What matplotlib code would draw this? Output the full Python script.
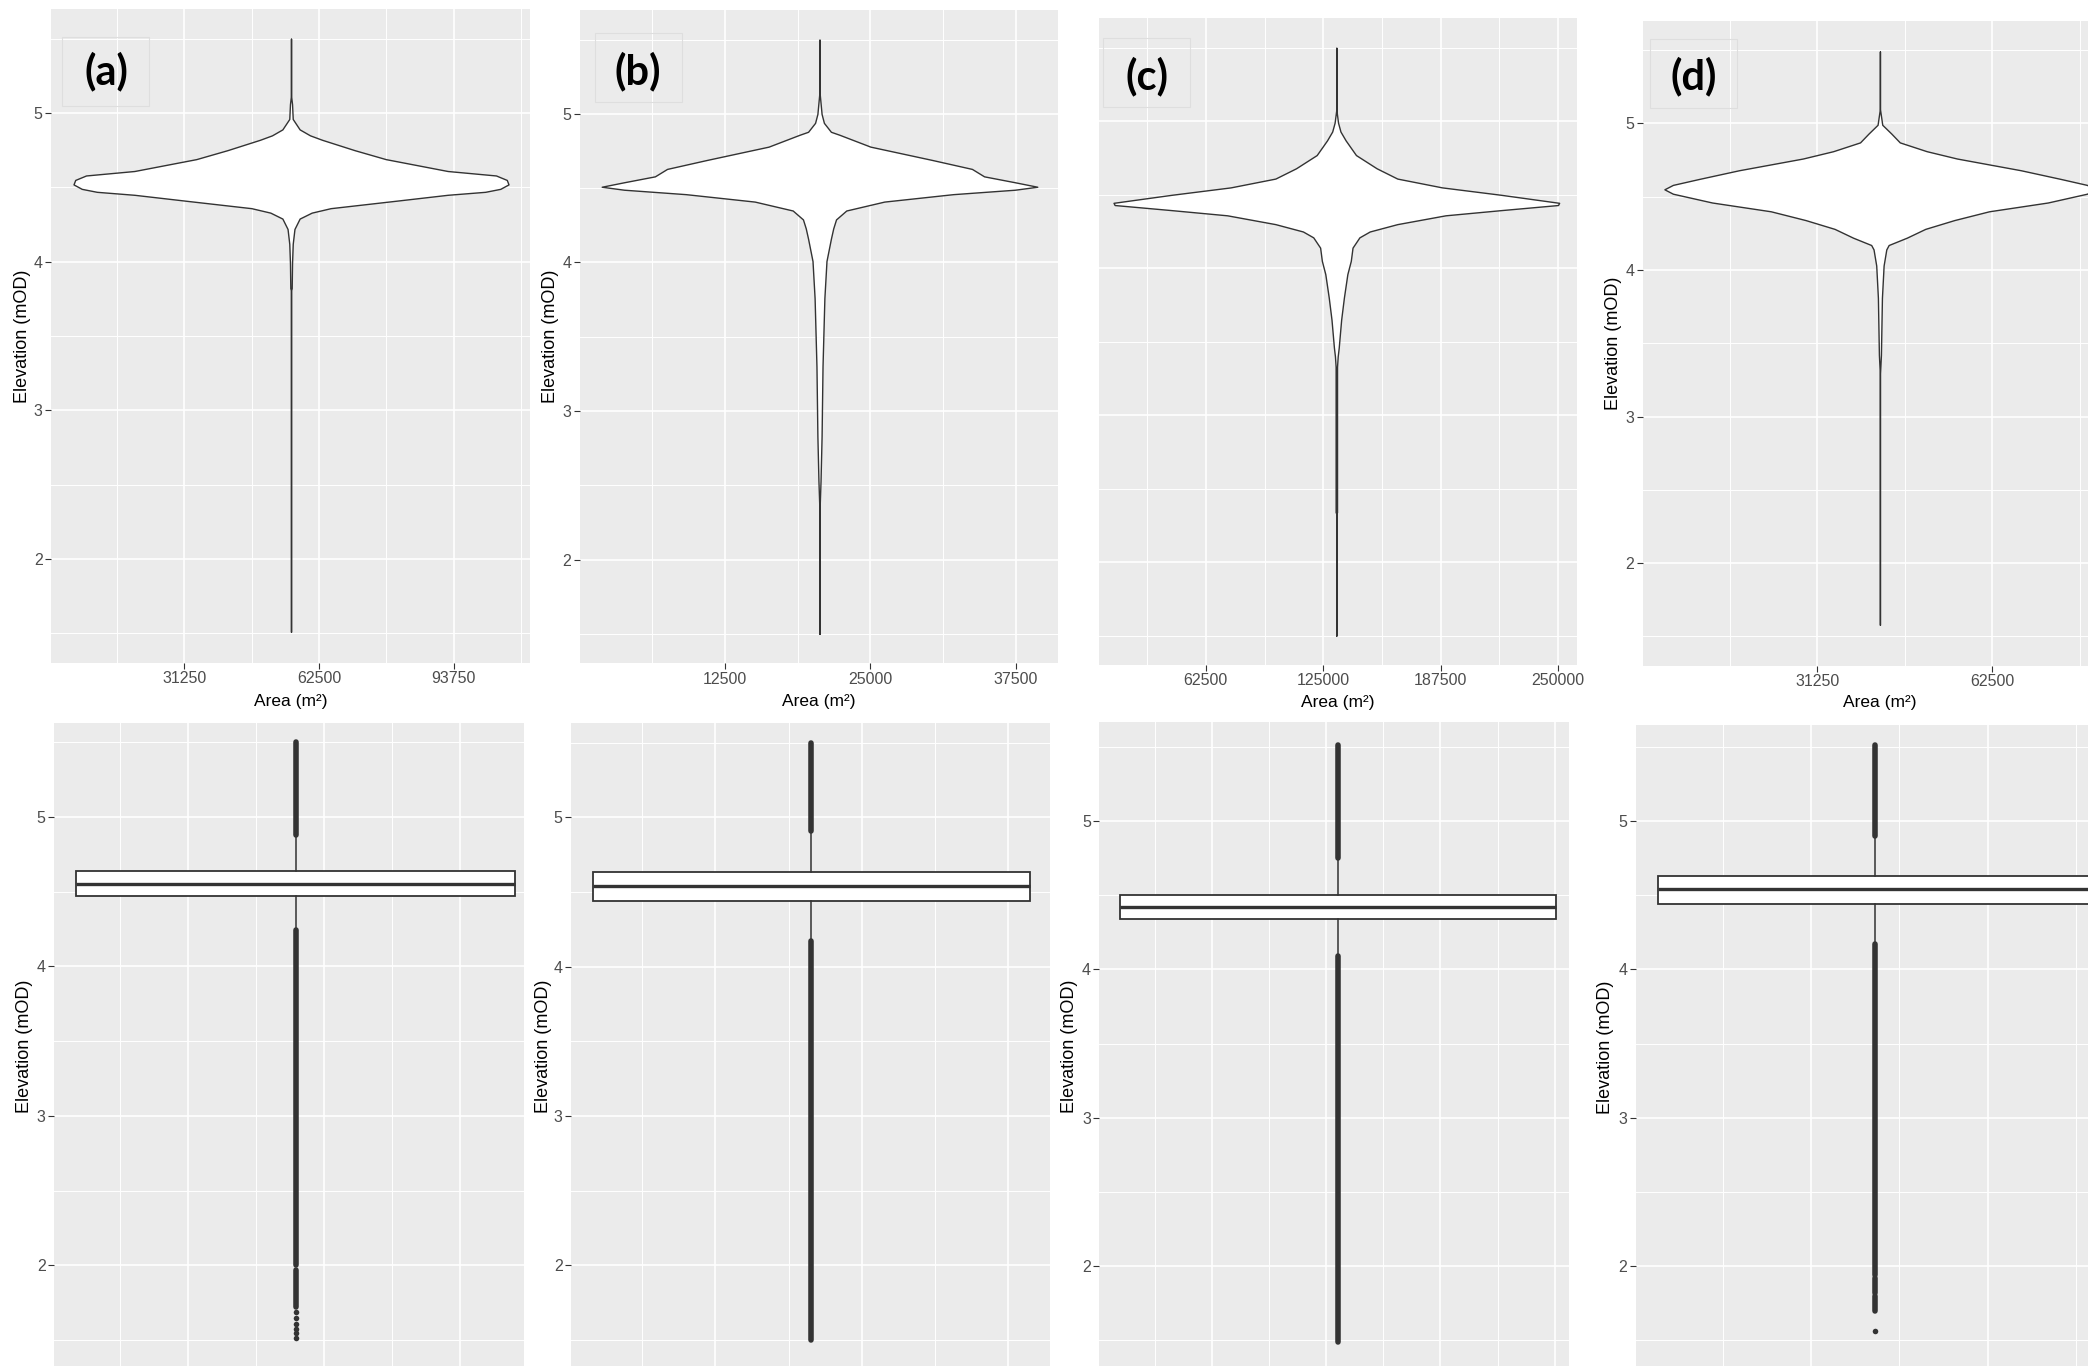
import numpy as np
import matplotlib.pyplot as plt
from matplotlib.patches import Rectangle

plt.rcParams["font.family"] = ["Liberation Sans", "DejaVu Sans"]

# ------------------------------------------------------------
# data
# ------------------------------------------------------------
panel_tags = ["(a)", "(b)", "(c)", "(d)"]
y_label = "Elevation (mOD)"
x_label = "Area (m²)"

# violin outlines: elevation (mOD) against half width (m2)
centre_a = 56000
elev_a = [5.50, 5.12, 5.06, 4.96, 4.89, 4.85, 4.82, 4.75, 4.69, 4.61, 4.58, 4.55, 4.52,
          4.49, 4.47, 4.45, 4.41, 4.36, 4.33, 4.29, 4.22, 4.12, 3.99, 3.82, 3.81, 1.51]
hw_a = [0, 0, 240, 400, 2000, 4400, 7200, 14760, 21950, 36300, 47500, 50000, 50400,
        48500, 45000, 36300, 24340, 9180, 4790, 2000, 800, 400, 240, 160, 0, 0]

centre_b = 20627
elev_b = [5.50, 5.15, 5.00, 4.94, 4.88, 4.86, 4.78, 4.69, 4.63, 4.58, 4.54, 4.51, 4.49,
          4.46, 4.41, 4.35, 4.29, 4.23, 4.16, 4.01, 3.76, 3.30, 2.83, 2.53, 2.32, 1.50]
hw_b = [0, 0, 180, 380, 980, 1710, 4370, 9690, 13090, 14130, 16790, 18700, 16790,
        11470, 5560, 2300, 1420, 1180, 980, 600, 420, 260, 180, 90, 0, 0]

centre_c = 131965
elev_c = [5.50, 5.08, 4.99, 4.93, 4.87, 4.77, 4.68, 4.61, 4.55, 4.50, 4.445, 4.43, 4.395,
          4.36, 4.30, 4.25, 4.21, 4.14, 4.05, 3.96, 3.80, 3.65, 3.46, 3.40, 3.33, 2.34, 2.33, 1.50]
hw_c = [0, 0, 920, 2200, 4950, 10450, 21450, 32440, 56270, 87430, 118590, 118000, 87430,
        58100, 32440, 17780, 12280, 8620, 7700, 5870, 4030, 2570, 1280, 730, 370, 370, 0, 0]

centre_d = 42430
elev_d = [5.49, 5.10, 4.99, 4.93, 4.87, 4.81, 4.76, 4.68, 4.62, 4.58, 4.55, 4.52, 4.46,
          4.40, 4.34, 4.28, 4.22, 4.17, 4.14, 4.03, 3.81, 3.42, 3.28, 1.58]
hw_d = [0, 0, 420, 2040, 3550, 8350, 13760, 25180, 32390, 37000, 38520, 37000, 30000,
        19500, 13280, 8100, 4800, 1560, 1140, 660, 360, 180, 0, 0]

# box plots (elevation, mOD); box centre and half width in m2
box_a = dict(med=4.55, q1=4.47, q3=4.64, whislo=4.25, whishi=4.87)
box_b = dict(med=4.54, q1=4.44, q3=4.635, whislo=4.18, whishi=4.90)
box_c = dict(med=4.42, q1=4.34, q3=4.50, whislo=4.10, whishi=4.74)
box_d = dict(med=4.54, q1=4.44, q3=4.63, whislo=4.18, whishi=4.89)
box_centre = [56116, 20670, 131400, 42560]
box_halfwidth = [50455, 18650, 119000, 38400]

# outliers are so dense they merge into solid runs; a few stand alone
runs_a = [(4.88, 5.50), (2.00, 4.24), (1.72, 1.97)]
runs_b = [(4.91, 5.50), (1.50, 4.17)]
runs_c = [(4.75, 5.51), (1.49, 4.09)]
runs_d = [(4.90, 5.51), (1.94, 4.17), (1.82, 1.92), (1.70, 1.80)]
single_a = [1.69, 1.645, 1.61, 1.574, 1.545, 1.517]
single_b = []
single_c = []
single_d = [1.56]

# x grid values per site
major_a, minor_a = [31250, 62500, 93750], [15625, 46875, 78125, 109375]
major_b, minor_b = [12500, 25000, 37500], [6250, 18750, 31250]
major_c, minor_c = [62500, 125000, 187500, 250000], [31250, 93750, 156250, 218750]
major_d, minor_d = [31250, 62500], [15625, 46875, 78125]
y_major = [2, 3, 4, 5]
y_minor = [1.5, 2.5, 3.5, 4.5, 5.5]

# ------------------------------------------------------------
# layout (pixel boxes of the pasted ggplot panels)
# ------------------------------------------------------------
W, H = 2088, 1366
fig = plt.figure(figsize=(W / 100, H / 100), dpi=100)
fig.patch.set_facecolor("white")

top_boxes = [(51, 9, 530, 663), (579.6, 10, 1058, 663.5),
             (1099, 18.4, 1577, 665), (1642.5, 20.7, 2117, 665.8)]
top_xlim = [(385, 111380), (30, 41105), (5650, 260060), (0, 84800)]
top_ylab_x = [22.4, 550.3, None, 1614]
top_xlab_y = [701.7, 701.7, 702.3, 702.3]

bot_boxes = [(54, 723.4, 524, 1370), (571, 723.4, 1050.3, 1370),
             (1099.2, 722, 1568.6, 1370), (1635.8, 724.6, 2114, 1370)]
bot_xlim = [(505, 108526), (170, 41080), (930, 257540), (283, 84800)]
bot_ytop = [5.625, 5.63, 5.667, 5.65]
bot_ylab_x = [24.8, 543.4, 1069.3, 1605.5]

tag_boxes = [(62.3, 36.7, 149.3, 106), (595, 33, 682, 102),
             (1103, 38, 1190, 106.5), (1650, 39, 1737, 108)]
tag_centres = [(106.7, 71.7), (638, 71), (1147, 76), (1694, 76)]

violins = [(centre_a, elev_a, hw_a), (centre_b, elev_b, hw_b),
           (centre_c, elev_c, hw_c), (centre_d, elev_d, hw_d)]
boxes = [box_a, box_b, box_c, box_d]
runs = [runs_a, runs_b, runs_c, runs_d]
singles = [single_a, single_b, single_c, single_d]
grids = [(major_a, minor_a), (major_b, minor_b), (major_c, minor_c), (major_d, minor_d)]


def add_panel(box):
    x0, y0, x1, y1 = box
    return fig.add_axes([x0 / W, 1 - y1 / H, (x1 - x0) / W, (y1 - y0) / H])


def gg_style(ax, majors, minors, show_y=True, show_x=True):
    ax.set_facecolor("#EBEBEB")
    for s in ax.spines.values():
        s.set_visible(False)
    ax.set_axisbelow(True)
    ax.set_xticks(majors)
    ax.set_xticks(minors, minor=True)
    ax.set_yticks(y_major)
    ax.set_yticks(y_minor, minor=True)
    ax.grid(which="major", color="white", lw=1.2)
    ax.grid(which="minor", color="white", lw=0.7)
    ax.tick_params(which="major", labelsize=11.5, labelcolor="#4D4D4D",
                   color="#333333", length=4, width=0.8, pad=2)
    ax.tick_params(which="minor", length=0)
    if not show_y:
        ax.tick_params(axis="y", length=0, labelleft=False)
    if not show_x:
        ax.tick_params(axis="x", length=0, labelbottom=False)


def px_to_axes(box, px=None, py=None):
    x0, y0, x1, y1 = box
    if px is not None:
        return (px - x0) / (x1 - x0)
    return 1 - (py - y0) / (y1 - y0)


# ---- top row: violins ----
for i in range(4):
    box = top_boxes[i]
    ax = add_panel(box)
    majors, minors = grids[i]
    gg_style(ax, majors, minors, show_y=top_ylab_x[i] is not None)
    c, elev, hw = violins[i]
    elev = np.array(elev)
    hw = np.array(hw)
    ax.fill_betweenx(elev, c - hw, c + hw, facecolor="white",
                     edgecolor="#333333", lw=1.0, zorder=3)
    ax.set_xlim(*top_xlim[i])
    ax.set_ylim(1.3, 5.7)
    ax.set_xticklabels([str(v) for v in majors])
    ax.set_yticklabels([str(v) for v in y_major])

    ax.set_xlabel(x_label, fontsize=12.5, color="black")
    ax.xaxis.set_label_coords(0.5, px_to_axes(box, py=top_xlab_y[i]))
    ax.xaxis.label.set_va("center")
    if top_ylab_x[i] is not None:
        ax.set_ylabel(y_label, fontsize=13, color="black")
        ax.yaxis.set_label_coords(px_to_axes(box, px=top_ylab_x[i]), 0.5)
        ax.yaxis.label.set_va("center")

# panel tags
for i in range(4):
    x0, y0, x1, y1 = tag_boxes[i]
    fig.patches.append(Rectangle((x0 / W, 1 - y1 / H), (x1 - x0) / W, (y1 - y0) / H,
                                 transform=fig.transFigure, facecolor="none",
                                 edgecolor="#DEDEDE", lw=0.8, zorder=5))
    tx, ty = tag_centres[i]
    fig.text(tx / W, 1 - ty / H, panel_tags[i], ha="center", va="center",
             fontsize=30, fontweight="bold", family=["Lato", "DejaVu Sans"], zorder=6)

# ---- bottom row: box plots ----
for i in range(4):
    box = bot_boxes[i]
    ax = add_panel(box)
    majors, minors = grids[i]
    gg_style(ax, majors, minors, show_x=False)
    stats = dict(boxes[i])
    stats["fliers"] = []
    ax.bxp([stats], positions=[box_centre[i]], widths=[2 * box_halfwidth[i]],
           showcaps=False, showfliers=False, patch_artist=True,
           boxprops=dict(facecolor="white", edgecolor="#333333", lw=1.3),
           medianprops=dict(color="#333333", lw=2.4),
           whiskerprops=dict(color="#333333", lw=1.1), manage_ticks=False)
    for lo, hi in runs[i]:
        ax.plot([box_centre[i], box_centre[i]], [lo, hi], color="#333333",
                lw=4, solid_capstyle="round", zorder=4)
    if singles[i]:
        ax.plot([box_centre[i]] * len(singles[i]), singles[i], "o",
                color="#333333", ms=4, mew=0, zorder=4)
    ax.set_xlim(*bot_xlim[i])
    ax.set_ylim(1.3, bot_ytop[i])
    ax.set_yticklabels([str(v) for v in y_major])
    ax.set_ylabel(y_label, fontsize=13, color="black")
    ax.yaxis.set_label_coords(px_to_axes(box, px=bot_ylab_x[i]), 0.5)
    ax.yaxis.label.set_va("center")

fig.savefig("out.png", dpi=100)
